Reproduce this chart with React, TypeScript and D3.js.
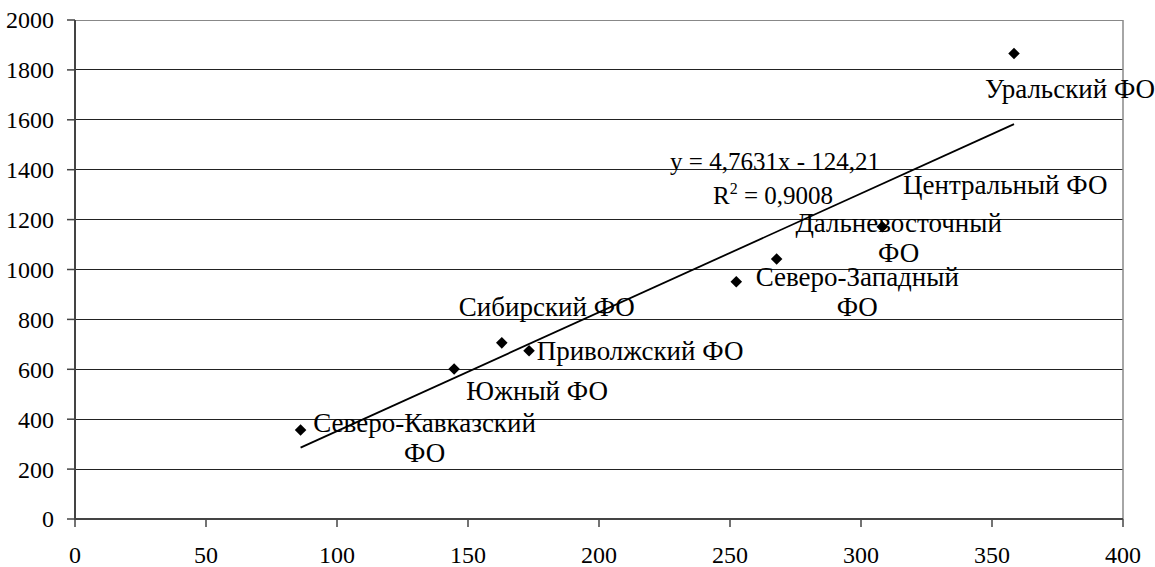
import React from "react";
import * as d3 from "d3";

const districts = [
  "Северо-Кавказский ФО",
  "Южный ФО",
  "Сибирский ФО",
  "Приволжский ФО",
  "Северо-Западный ФО",
  "Дальневосточный ФО",
  "Центральный ФО",
  "Уральский ФО",
];
const xValues = [86.1, 144.7, 162.9, 173.3, 252.4, 267.8, 308.1, 358.4];
const yValues = [357, 601, 706, 674, 951, 1042, 1171, 1866];
// label lines and offsets (px) relative to point
const labelLines = [
  ["Северо-Кавказский", "ФО"],
  ["Южный ФО"],
  ["Сибирский ФО"],
  ["Приволжский ФО"],
  ["Северо-Западный", "ФО"],
  ["Дальневосточный", "ФО"],
  ["Центральный ФО"],
  ["Уральский ФО"],
];
const labelDx = [124, 83, 45, 111, 121, 122, 123, 56];
const labelDy = [-7, 21, -36, 0, -5, -36, -42, 35];
const xTicks = [0, 50, 100, 150, 200, 250, 300, 350, 400];
const yTicks = [0, 200, 400, 600, 800, 1000, 1200, 1400, 1600, 1800, 2000];
const slope = 4.7631;
const intercept = -124.21;
const eqText = "y = 4,7631x - 124,21";
const r2Text = "0,9008";

const W = 1155;
const H = 567;
const L = 75;
const R = 1123;
const T = 20;
const B = 519;
const FONT = "'Liberation Serif', 'Times New Roman', 'DejaVu Serif', serif";
const FS_TICK = 24;
const FS_LABEL = 27;
const FS_EQ = 25;

export default function App() {
  const x = d3.scaleLinear().domain([0, 400]).range([L, R]);
  const y = d3.scaleLinear().domain([0, 2000]).range([B, T]);
  const xMin = d3.min(xValues)!;
  const xMax = d3.max(xValues)!;
  const line = d3
    .line<number>()
    .x((d) => x(d))
    .y((d) => y(slope * d + intercept));
  const diamond = d3.symbol().type(d3.symbolDiamond2).size(85)()!;

  return (
    <svg
      width={W}
      height={H}
      style={{ position: "absolute", left: 0, top: 0, background: "#fff", fontFamily: FONT }}
    >
      <rect x={0} y={0} width={W} height={H} fill="#fff" />
      {/* gridlines */}
      {yTicks.map((t) => (
        <line
          key={"g" + t}
          x1={L}
          x2={R}
          y1={y(t)}
          y2={y(t)}
          stroke={t === 2000 ? "#888" : "#222"}
          strokeWidth={1}
          shapeRendering="crispEdges"
        />
      ))}
      {/* right border */}
      <line x1={R} x2={R} y1={T} y2={B} stroke="#888" strokeWidth={1.5} />
      {/* axes */}
      <line x1={L} x2={L} y1={T} y2={B + 1} stroke="#444" strokeWidth={2} />
      <line x1={L} x2={R} y1={B} y2={B} stroke="#444" strokeWidth={2} />
      {yTicks.map((t) => (
        <g key={"y" + t}>
          <line x1={L - 8} x2={L} y1={y(t)} y2={y(t)} stroke="#444" strokeWidth={1.5} />
          <text x={54} y={y(t)} dy="0.35em" textAnchor="end" fill="#000" fontSize={FS_TICK}>
            {t}
          </text>
        </g>
      ))}
      {xTicks.map((t) => (
        <g key={"x" + t}>
          <line x1={x(t)} x2={x(t)} y1={B} y2={B + 8} stroke="#444" strokeWidth={1.5} />
          <text x={x(t)} y={563} textAnchor="middle" fill="#000" fontSize={FS_TICK}>
            {t}
          </text>
        </g>
      ))}
      {/* trendline */}
      <path d={line([xMin, xMax]) ?? ""} fill="none" stroke="#000" strokeWidth={1.8} />
      {/* points */}
      {xValues.map((v, i) => (
        <path
          key={"p" + i}
          d={diamond}
          transform={`translate(${x(v)},${y(yValues[i])})`}
          fill="#000"
        />
      ))}
      {/* labels */}
      {xValues.map((v, i) => {
        const lines = labelLines[i];
        const cx = x(v) + labelDx[i];
        const cy = y(yValues[i]) + labelDy[i];
        return (
          <text key={"l" + i} x={cx} y={cy} textAnchor="middle" fill="#000" fontSize={FS_LABEL}>
            {lines.map((ln, j) => (
              <tspan key={j} x={cx} dy={j === 0 ? "0.35em" : 30}>
                {ln}
              </tspan>
            ))}
          </text>
        );
      })}
      {/* equation */}
      <text x={775} y={161} dy="0.35em" textAnchor="middle" fill="#000" fontSize={FS_EQ}>
        {eqText}
      </text>
      <text x={713} y={195} dy="0.35em" fill="#000" fontSize={FS_EQ}>
        R<tspan dy={-10} fontSize={16}>2</tspan>
        <tspan dy={10}>{" = " + r2Text}</tspan>
      </text>
    </svg>
  );
}
